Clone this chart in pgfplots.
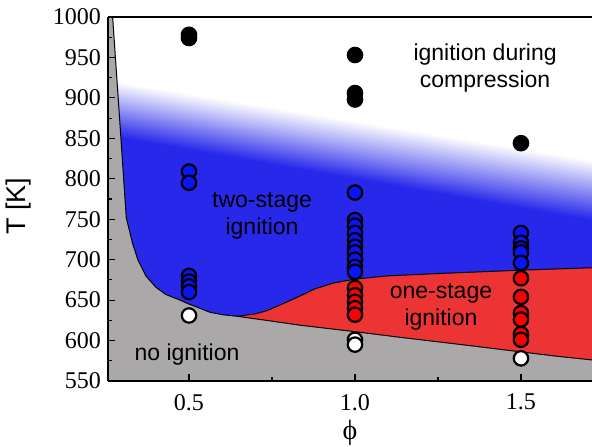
\documentclass[border=0pt]{standalone}
\usepackage{pgfplots}
\pgfplotsset{compat=1.18}
\usepackage{fontspec}
\setmainfont{Liberation Serif}
\newfontfamily\timesf{Liberation Serif}
\newfontfamily\arial{Liberation Sans}

\definecolor{bluereg}{RGB}{40,40,235}
\definecolor{redreg}{RGB}{236,52,52}
\definecolor{grayreg}{RGB}{170,168,168}
\definecolor{bluemk}{RGB}{10,20,250}
\definecolor{redmk}{RGB}{250,0,0}

\begin{document}
\begin{tikzpicture}
\begin{axis}[
    scale only axis,
    width=242pt, height=182pt,
    xmin=0.256, xmax=1.714,
    ymin=550, ymax=1000,
    axis x line*=box, axis y line*=left,
    axis on top,
    tick align=inside,
    xtick pos=left,
    xtick={0.5,1.0,1.5}, minor x tick num=1,
    ytick={550,600,...,1000}, minor y tick num=1,
    major tick length=3.5pt, minor tick length=2pt,
    tick style={black, line width=0.6pt},
    axis line style={black, line width=0.6pt},
    ticklabel style={font=\timesf\fontsize{12}{14}\selectfont},
    /pgf/number format/assume math mode=true,
    x tick label style={yshift=-3pt, /pgf/number format/.cd, fixed, fixed zerofill, precision=1},
    y tick label style={/pgf/number format/.cd, fixed, set thousands separator={}},
    xlabel={ϕ},
    xlabel style={font=\timesf\fontsize{14}{16}\selectfont, yshift=2pt},
    ylabel={T [K]},
    ylabel style={font=\arial\fontsize{13.5}{16}\selectfont, at={(axis description cs:-0.145,0.48)}},
    colormap={fade}{rgb255=(40,40,235) rgb255=(255,255,255)},
    point meta min=0, point meta max=1,
]
% blue region (solid part) and fade band
\addplot[fill=bluereg, draw=none] coordinates {(0.256,550) (1.714,550) (1.714,752) (0.256,857)} -- cycle;
\addplot[patch, patch type=rectangle, shader=interp, point meta=explicit, draw=none]
    coordinates {(0.256,854) [0] (1.714,749) [0] (1.714,823) [1] (0.256,922) [1]};

% no ignition
\addplot[fill=grayreg, draw=none] coordinates {
    (0.256,1000) (0.270,1000) (0.290,880) (0.311,752) (0.330,720) (0.346,700)
    (0.370,680) (0.400,666) (0.430,657) (0.473,650) (0.500,645) (0.520,642)
    (0.563,635) (0.600,632) (0.645,630) (0.750,624) (0.834,619) (1.000,611)
    (1.136,604) (1.300,596) (1.500,586) (1.600,581) (1.714,576)
    (1.714,550) (0.256,550)} -- cycle;

% one-stage ignition
\addplot[fill=redreg, draw=none] coordinates {
    (0.645,630) (0.700,633) (0.735,637) (0.780,645) (0.834,655) (0.880,664)
    (0.934,671) (1.000,676) (1.100,680) (1.260,683) (1.500,687) (1.714,690)
    (1.714,576) (1.600,581) (1.500,586) (1.300,596) (1.136,604) (1.000,611)
    (0.834,619) (0.750,624)} -- cycle;

% boundaries
\addplot[black, line width=0.5pt] coordinates {
    (0.270,1000) (0.290,880) (0.311,752) (0.330,720) (0.346,700)
    (0.370,680) (0.400,666) (0.430,657) (0.473,650) (0.500,645) (0.520,642)
    (0.563,635) (0.600,632) (0.645,630) (0.750,624) (0.834,619) (1.000,611)
    (1.136,604) (1.300,596) (1.500,586) (1.600,581) (1.714,576)};
\addplot[black, line width=0.5pt] coordinates {
    (0.645,630) (0.700,633) (0.735,637) (0.780,645) (0.834,655) (0.880,664)
    (0.934,671) (1.000,676) (1.100,680) (1.260,683) (1.500,687) (1.714,690)};

% measurements
\addplot[only marks, mark=*, mark size=3.6pt, line width=1.1pt, draw=black, fill=white]
    coordinates {(0.5,631) (1.0,601) (1.0,595) (1.5,578)};
\addplot[only marks, mark=*, mark size=3.6pt, line width=1.1pt, draw=black, fill=redmk]
    coordinates {(1.0,665) (1.0,656) (1.0,648) (1.0,640) (1.0,632)
                 (1.5,677) (1.5,654) (1.5,634) (1.5,626) (1.5,608) (1.5,601)};
\addplot[only marks, mark=*, mark size=3.6pt, line width=1.1pt, draw=black, fill=bluemk]
    coordinates {(0.5,809) (0.5,795) (0.5,680) (0.5,673) (0.5,667) (0.5,660)
                 (1.0,783) (1.0,749) (1.0,742) (1.0,733) (1.0,724) (1.0,716)
                 (1.0,709) (1.0,700) (1.0,691) (1.0,685)
                 (1.5,733) (1.5,721) (1.5,714) (1.5,709) (1.5,696)};
\addplot[only marks, mark=*, mark size=3.6pt, line width=1.1pt, draw=black, fill=black]
    coordinates {(0.5,978) (0.5,974) (1.0,953) (1.0,906) (1.0,898) (1.5,844)};

% region labels
\node[font=\arial\fontsize{11.5}{13.5}\selectfont, align=center] at (axis cs:1.392,937) {ignition during\\compression};
\node[font=\arial\fontsize{11.5}{13.5}\selectfont, align=center] at (axis cs:0.720,754) {two-stage\\ignition};
\node[font=\arial\fontsize{11.5}{13.5}\selectfont, align=center] at (axis cs:1.259,641) {one-stage\\ignition};
\node[font=\arial\fontsize{11.5}{13.5}\selectfont] at (axis cs:0.494,583) {no ignition};
\end{axis}
\pgfresetboundingbox
\useasboundingbox ([xshift=-54pt,yshift=-33pt]current axis.south west) rectangle ([yshift=8.5pt]current axis.north east);
\end{tikzpicture}
\end{document}
